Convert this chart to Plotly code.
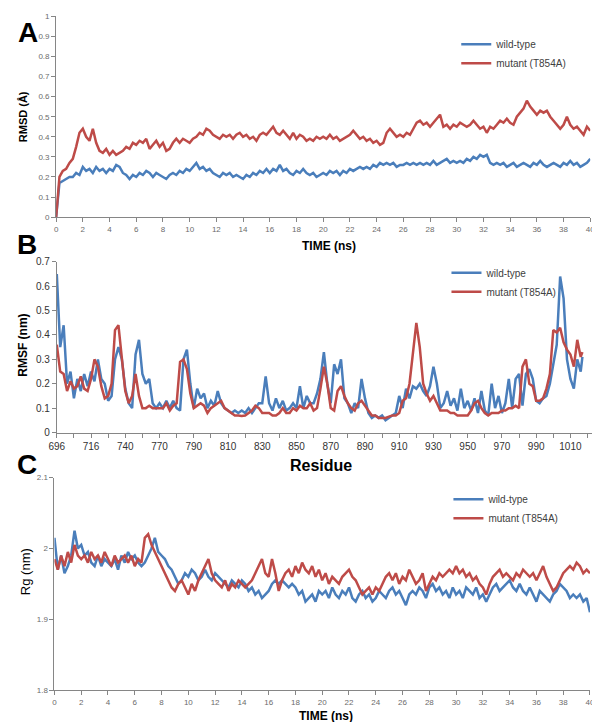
import plotly.graph_objects as go

W, H = 600, 722
BLUE = "#4A7EBB"
RED = "#BE4B48"
AXIS = "#868686"

# ---------------- Panel A: RMSD vs time (every 0.25 ns) ----------------
rmsd_wt = [
    0.0, 0.17, 0.18, 0.19,   0.2, 0.2, 0.22, 0.21,   0.25, 0.23, 0.24, 0.22,   0.25, 0.23, 0.24, 0.22,
    0.24, 0.23, 0.26, 0.25,  0.22, 0.21, 0.19, 0.21,  0.2, 0.22, 0.21, 0.23,   0.22, 0.2, 0.22, 0.21,
    0.2, 0.19, 0.21, 0.22,   0.21, 0.23, 0.22, 0.24,  0.23, 0.25, 0.27, 0.24,  0.25, 0.23, 0.24, 0.22,
    0.21, 0.2, 0.22, 0.21,   0.22, 0.2, 0.21, 0.2,    0.19, 0.21, 0.2, 0.22,   0.21, 0.23, 0.22, 0.24,
    0.22, 0.24, 0.23, 0.26,  0.23, 0.24, 0.22, 0.21,  0.23, 0.22, 0.24, 0.22,  0.21, 0.22, 0.2, 0.21,
    0.22, 0.21, 0.23, 0.22,  0.23, 0.21, 0.23, 0.22,  0.24, 0.23, 0.24, 0.25,  0.24, 0.25, 0.24, 0.26,
    0.25, 0.27, 0.26, 0.27,  0.26, 0.27, 0.25, 0.26,  0.26, 0.27, 0.26, 0.27,  0.26, 0.27, 0.26, 0.27,
    0.26, 0.28, 0.26, 0.27,  0.28, 0.29, 0.27, 0.28,  0.27, 0.28, 0.27, 0.29,  0.28, 0.3, 0.29, 0.31,
    0.3, 0.31, 0.27, 0.26,   0.27, 0.26, 0.27, 0.25,  0.26, 0.27, 0.25, 0.26,  0.27, 0.26, 0.25, 0.27,
    0.26, 0.28, 0.26, 0.25,  0.26, 0.27, 0.26, 0.25,  0.27, 0.26, 0.28, 0.26,  0.27, 0.25, 0.26, 0.27,
    0.29,
]
rmsd_mut = [
    0.0, 0.2, 0.23, 0.24,    0.27, 0.29, 0.35, 0.42,  0.44, 0.4, 0.38, 0.44,   0.37, 0.33, 0.32, 0.34,
    0.31, 0.33, 0.31, 0.32,  0.33, 0.35, 0.34, 0.37,  0.36, 0.38, 0.37, 0.39,  0.34, 0.36, 0.38, 0.35,
    0.37, 0.33, 0.34, 0.37,  0.39, 0.37, 0.39, 0.38,  0.37, 0.39, 0.4, 0.42,   0.41, 0.44, 0.43, 0.41,
    0.4, 0.39, 0.41, 0.4,    0.41, 0.39, 0.41, 0.42,  0.4, 0.41, 0.39, 0.4,    0.38, 0.41, 0.42, 0.41,
    0.43, 0.45, 0.42, 0.41,  0.43, 0.41, 0.39, 0.42,  0.39, 0.41, 0.4, 0.38,   0.39, 0.38, 0.4, 0.39,
    0.4, 0.39, 0.41, 0.39,   0.4, 0.38, 0.39, 0.4,    0.41, 0.43, 0.41, 0.39,  0.4, 0.38, 0.39, 0.37,
    0.38, 0.36, 0.37, 0.42,  0.44, 0.42, 0.4, 0.41,   0.4, 0.42, 0.41, 0.44,   0.47, 0.48, 0.46, 0.47,
    0.45, 0.47, 0.49, 0.51,  0.45, 0.46, 0.44, 0.46,  0.45, 0.47, 0.46, 0.45,  0.46, 0.48, 0.46, 0.44,
    0.45, 0.42, 0.45, 0.44,  0.46, 0.48, 0.47, 0.49,  0.47, 0.46, 0.5, 0.52,   0.54, 0.58, 0.55, 0.53,
    0.51, 0.53, 0.52, 0.53,  0.5, 0.48, 0.46, 0.44,   0.46, 0.5, 0.46, 0.44,   0.45, 0.43, 0.41, 0.45,
    0.43,
]

# ---------------- Panel C: Rg vs time (every 0.25 ns) ----------------
rg_wt = [
    2.015, 1.97, 1.99, 1.965,  1.975, 1.99, 2.025, 2.0,   2.005, 1.99, 1.995, 1.98,  1.975, 1.99, 1.975, 1.985,
    1.98, 1.975, 1.985, 1.97,  1.99, 1.98, 1.995, 1.985,  1.99, 1.98, 1.975, 1.98,   1.99, 2.0, 2.015, 1.995,
    1.99, 1.985, 1.975, 1.97,  1.96, 1.95, 1.955, 1.965,  1.96, 1.97, 1.965, 1.955,  1.96, 1.97, 1.96, 1.955,
    1.965, 1.96, 1.955, 1.95,  1.945, 1.955, 1.95, 1.945, 1.955, 1.95, 1.94, 1.945,  1.935, 1.94, 1.93, 1.935,
    1.94, 1.95, 1.955, 1.95,   1.955, 1.95, 1.945, 1.95,  1.945, 1.935, 1.94, 1.925, 1.93, 1.935, 1.925, 1.94,
    1.935, 1.94, 1.93, 1.945,  1.935, 1.93, 1.94, 1.935,  1.945, 1.93, 1.925, 1.935, 1.94, 1.93, 1.935, 1.925,
    1.93, 1.94, 1.935, 1.93,   1.94, 1.945, 1.935, 1.94,  1.93, 1.92, 1.935, 1.94,   1.935, 1.945, 1.94, 1.93,
    1.945, 1.95, 1.94, 1.945,  1.935, 1.94, 1.93, 1.945,  1.935, 1.94, 1.93, 1.945,  1.94, 1.935, 1.945, 1.93,
    1.935, 1.925, 1.935, 1.945, 1.95, 1.94, 1.945, 1.95,  1.955, 1.945, 1.94, 1.95,  1.94, 1.935, 1.945, 1.935,
    1.925, 1.94, 1.935, 1.93,  1.925, 1.935, 1.94, 1.95,  1.945, 1.94, 1.93, 1.935,  1.93, 1.935, 1.925, 1.93,
    1.91,
]
rg_mut = [
    1.985, 1.97, 1.99, 1.975,  1.995, 1.98, 2.005, 1.99,  1.985, 1.99, 1.98, 1.995,  1.985, 1.99, 1.98, 1.995,
    1.985, 1.975, 1.99, 1.98,  1.985, 1.99, 1.98, 1.99,   1.975, 1.985, 1.98, 2.015, 2.02, 2.005, 1.995, 1.985,
    1.975, 1.965, 1.955, 1.945, 1.94, 1.95, 1.955, 1.945, 1.935, 1.95, 1.94, 1.955,  1.965, 1.975, 1.985, 1.965,
    1.955, 1.95, 1.945, 1.955, 1.94, 1.95, 1.945, 1.955,  1.95, 1.945, 1.95, 1.955,  1.965, 1.975, 1.985, 1.965,
    1.96, 1.985, 1.965, 1.94,  1.955, 1.965, 1.97, 1.96,  1.975, 1.965, 1.98, 1.97,  1.965, 1.975, 1.96, 1.97,
    1.955, 1.965, 1.95, 1.96,  1.955, 1.95, 1.96, 1.965,  1.97, 1.96, 1.955, 1.945,  1.935, 1.94, 1.945, 1.935,
    1.945, 1.94, 1.95, 1.96,   1.965, 1.955, 1.965, 1.95, 1.96, 1.955, 1.97, 1.96,   1.95, 1.955, 1.965, 1.94,
    1.95, 1.96, 1.955, 1.965,  1.96, 1.965, 1.97, 1.965,  1.975, 1.965, 1.97, 1.96,  1.965, 1.955, 1.96, 1.95,
    1.945, 1.935, 1.95, 1.96,  1.965, 1.97, 1.96, 1.965,  1.96, 1.955, 1.965, 1.96,  1.97, 1.965, 1.96, 1.965,
    1.955, 1.965, 1.975, 1.96, 1.95, 1.94, 1.945, 1.955,  1.965, 1.97, 1.975, 1.97,  1.98, 1.975, 1.965, 1.97,
    1.965,
]

# ---------------- Panel B: RMSF per residue ----------------
# residue categories on the axis (numbering has gaps)
residue_axis = [str(r) for r in list(range(696, 725)) + list(range(729, 755)) + list(range(765, 1028))]
rmsf_positions = list(range(0, 307, 2)) + [307]   # every 2nd residue category sampled
rmsf_wt = [
    0.65, 0.35, 0.44, 0.2, 0.25, 0.14, 0.22, 0.17, 0.24, 0.19,
    0.25, 0.21, 0.3, 0.22, 0.2, 0.13, 0.15, 0.3, 0.35, 0.3,
    0.18, 0.12, 0.1, 0.32, 0.38, 0.24, 0.2, 0.22, 0.12, 0.1,
    0.12, 0.1, 0.13, 0.1, 0.13, 0.1, 0.09, 0.3, 0.34, 0.2,
    0.1, 0.18, 0.14, 0.16, 0.1, 0.13, 0.11, 0.17, 0.12, 0.1,
    0.09, 0.08, 0.09, 0.08, 0.09, 0.08, 0.1, 0.08, 0.1, 0.12,
    0.12, 0.23, 0.12, 0.09, 0.14, 0.1, 0.13, 0.09, 0.1, 0.12,
    0.1, 0.19, 0.1, 0.15, 0.12, 0.12, 0.16, 0.22, 0.33, 0.2,
    0.12, 0.28, 0.24, 0.3, 0.14, 0.12, 0.08, 0.12, 0.1, 0.22,
    0.14, 0.08, 0.06, 0.07, 0.06, 0.07, 0.05, 0.06, 0.07, 0.08,
    0.15, 0.1, 0.18, 0.14, 0.19, 0.18, 0.2, 0.17, 0.15, 0.19,
    0.27, 0.2, 0.1, 0.12, 0.17, 0.11, 0.14, 0.09, 0.18, 0.1,
    0.13, 0.09, 0.14, 0.08, 0.17, 0.09, 0.07, 0.2, 0.1, 0.15,
    0.08, 0.12, 0.22, 0.1, 0.22, 0.24, 0.11, 0.24, 0.26, 0.22,
    0.13, 0.12, 0.14, 0.15, 0.2, 0.28, 0.36, 0.64, 0.55, 0.3,
    0.22, 0.18, 0.3, 0.25, 0.31,
]
rmsf_mut = [
    0.36, 0.25, 0.24, 0.17, 0.21, 0.18, 0.19, 0.23, 0.18, 0.17,
    0.22, 0.3, 0.27, 0.19, 0.14, 0.15, 0.2, 0.42, 0.44, 0.3,
    0.17, 0.12, 0.15, 0.24, 0.15, 0.1, 0.1, 0.11, 0.1, 0.1,
    0.1, 0.1, 0.12, 0.09, 0.11, 0.12, 0.29, 0.3, 0.26, 0.16,
    0.1, 0.11, 0.12, 0.11, 0.08, 0.1, 0.11, 0.12, 0.13, 0.1,
    0.09, 0.08, 0.07, 0.07, 0.068, 0.07, 0.08, 0.09, 0.11, 0.1,
    0.08, 0.08, 0.08, 0.07, 0.07, 0.08, 0.1, 0.08, 0.08, 0.1,
    0.09, 0.11, 0.1, 0.1, 0.12, 0.09, 0.1, 0.18, 0.27, 0.2,
    0.1, 0.09, 0.17, 0.19, 0.15, 0.12, 0.1, 0.09, 0.12, 0.13,
    0.11, 0.09, 0.07, 0.07, 0.06, 0.06, 0.06, 0.065, 0.07, 0.07,
    0.08, 0.13, 0.14, 0.2, 0.33, 0.45, 0.35, 0.2, 0.16, 0.13,
    0.15, 0.12, 0.09, 0.09, 0.09, 0.08, 0.08, 0.07, 0.07, 0.07,
    0.07, 0.09, 0.12, 0.13, 0.1, 0.08, 0.07, 0.08, 0.08, 0.08,
    0.09, 0.09, 0.1, 0.1, 0.11, 0.1, 0.27, 0.3, 0.2, 0.19,
    0.13, 0.13, 0.14, 0.18, 0.24, 0.42, 0.41, 0.43, 0.37, 0.34,
    0.32, 0.27, 0.38, 0.31, 0.33,
]
rmsf_res = [residue_axis[i] for i in rmsf_positions]
tick_res = residue_axis[0:311:10]
tick_txt = [r if i % 2 == 0 else "" for i, r in enumerate(tick_res)]

time_ns = [i * 0.25 for i in range(len(rmsd_wt))]

series_names = ["wild-type", "mutant (T854A)"]

# ---------------- layout helpers (pixel -> paper) ----------------
def xdom(left, right):
    return [left / W, right / W]

def ydom(top, bottom):
    return [1 - bottom / H, 1 - top / H]

def px(x):
    return x / W

def py(y):
    return 1 - y / H

fig = go.Figure()

fig.add_trace(go.Scatter(x=time_ns, y=rmsd_wt, mode="lines", name=series_names[0],
                         line=dict(color=BLUE, width=2.5), xaxis="x", yaxis="y", legend="legend"))
fig.add_trace(go.Scatter(x=time_ns, y=rmsd_mut, mode="lines", name=series_names[1],
                         line=dict(color=RED, width=2.5), xaxis="x", yaxis="y", legend="legend"))
fig.add_trace(go.Scatter(x=rmsf_res, y=rmsf_wt, mode="lines", name=series_names[0],
                         line=dict(color=BLUE, width=2.5), xaxis="x2", yaxis="y2", legend="legend2"))
fig.add_trace(go.Scatter(x=rmsf_res, y=rmsf_mut, mode="lines", name=series_names[1],
                         line=dict(color=RED, width=2.5), xaxis="x2", yaxis="y2", legend="legend2"))
fig.add_trace(go.Scatter(x=time_ns, y=rg_wt, mode="lines", name=series_names[0],
                         line=dict(color=BLUE, width=2.5), xaxis="x3", yaxis="y3", legend="legend3"))
fig.add_trace(go.Scatter(x=time_ns, y=rg_mut, mode="lines", name=series_names[1],
                         line=dict(color=RED, width=2.5), xaxis="x3", yaxis="y3", legend="legend3"))

small = dict(family="Liberation Sans, Arial", size=8, color="#6b6b6b")
mid = dict(family="Liberation Sans, Arial", size=10, color="#333333")
common = dict(showgrid=False, zeroline=False, showline=True, linecolor=AXIS, linewidth=1,
              ticks="outside", ticklen=4, tickcolor=AXIS, tickwidth=1)

legend_font = dict(family="Liberation Sans, Arial", size=10, color="#404040")

fig.update_layout(
    width=W, height=H, margin=dict(l=0, r=0, t=0, b=0),
    paper_bgcolor="white", plot_bgcolor="white",
    xaxis=dict(domain=xdom(41, 587), range=[0, 40], dtick=2, tick0=0, anchor="y",
               tickfont=small, **common),
    yaxis=dict(domain=ydom(3.3, 207.3), range=[0, 1], dtick=0.1, anchor="x",
               tickfont=small, **common),
    xaxis2=dict(domain=xdom(41.7, 598.2), type="category", categoryorder="array",
                categoryarray=residue_axis, range=[0, 318], tickmode="array",
                tickvals=tick_res, ticktext=tick_txt, anchor="y2", tickfont=mid, **common),
    yaxis2=dict(domain=ydom(252.7, 426), range=[0, 0.7], dtick=0.1, anchor="x2",
                tickfont=mid, **common),
    xaxis3=dict(domain=xdom(39.3, 586.7), range=[0, 40], dtick=2, tick0=0, anchor="y3",
                tickfont=small, **common),
    yaxis3=dict(domain=ydom(471.7, 687.7), range=[1.8, 2.1], dtick=0.1, anchor="x3",
                tickfont=small, **common),
    legend=dict(x=px(450), y=py(17), xanchor="left", yanchor="top", font=legend_font,
                bgcolor="rgba(0,0,0,0)"),
    legend2=dict(x=px(440), y=py(249), xanchor="left", yanchor="top", font=legend_font,
                 bgcolor="rgba(0,0,0,0)"),
    legend3=dict(x=px(442), y=py(479), xanchor="left", yanchor="top", font=legend_font,
                 bgcolor="rgba(0,0,0,0)"),
)

bold = "Liberation Sans, Arial"
annots = [
    dict(text="<b>A</b>", x=px(12), y=py(20), size=28),
    dict(text="<b>B</b>", x=px(11), y=py(235), size=28),
    dict(text="<b>C</b>", x=px(11), y=py(458), size=28),
    dict(text="<b>TIME (ns)</b>", x=px(320), y=py(237), size=12),
    dict(text="<b>Residue</b>", x=px(312), y=py(460), size=16),
    dict(text="<b>TIME (ns)</b>", x=px(317), y=py(714), size=12),
]
for a in annots:
    fig.add_annotation(text=a["text"], x=a["x"], y=a["y"], xref="paper", yref="paper",
                       showarrow=False, xanchor="center", yanchor="middle",
                       font=dict(family=bold, size=a["size"], color="#000000"))

for txt, x, y, size in [("<b>RMSD (Å)</b>", 8, 105, 11), ("<b>RMSF (nm)</b>", 7, 337, 12),
                        ("Rg (nm)", 10, 567, 13)]:
    fig.add_annotation(text=txt, x=px(x), y=py(y), xref="paper", yref="paper", showarrow=False,
                       textangle=-90, xanchor="center", yanchor="middle",
                       font=dict(family=bold, size=size, color="#000000"))

fig.write_html("out.html")
